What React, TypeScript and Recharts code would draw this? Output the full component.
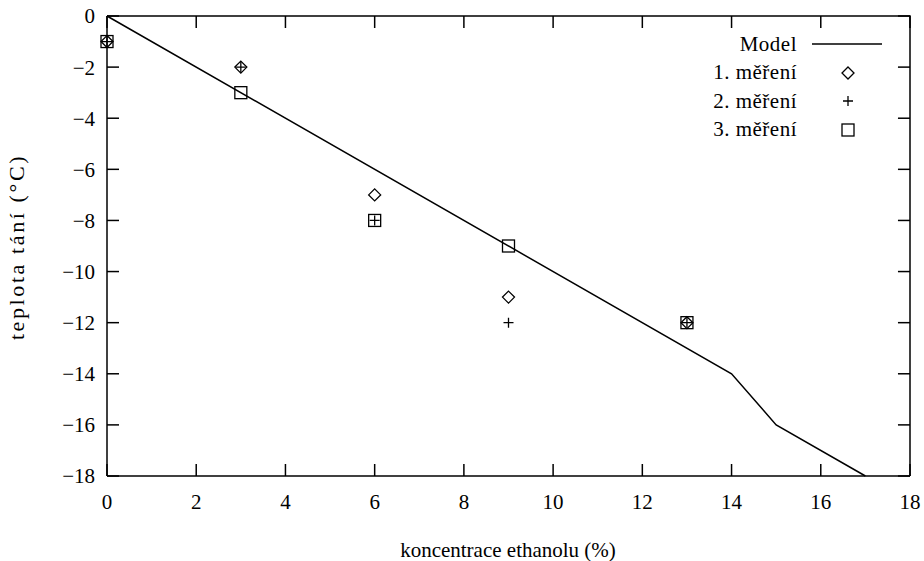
import React from 'react';
import { ScatterChart, Scatter, XAxis, YAxis, Legend } from 'recharts';

// measured concentrations (%) and melting temperatures (°C)
const concentrations = [0, 3, 6, 9, 13];
const mereni1 = [-1, -2, -7, -11, -12];
const mereni2 = [-1, -2, -8, -12, -12];
const mereni3 = [-1, -3, -8, -9, -12];

// model line vertices
const modelX = [0, 14, 15, 17];
const modelY = [0, -14, -16, -18];

const xTicks = [0, 2, 4, 6, 8, 10, 12, 14, 16, 18];
const yTicks = [0, -2, -4, -6, -8, -10, -12, -14, -16, -18];
const X_MIN = 0, X_MAX = 18, Y_MIN = -18, Y_MAX = 0;

const toPoints = (xs: number[], ys: number[]) => xs.map((x, i) => ({ x, y: ys[i] }));

const modelData = toPoints(modelX, modelY);
const data1 = toPoints(concentrations, mereni1);
const data2 = toPoints(concentrations, mereni2);
const data3 = toPoints(concentrations, mereni3);

// frame (top + right edge) and inward mirrored ticks, built from the axis ranges
const TICK_Y = 0.47; // ~12px
const TICK_X = 0.27; // ~12px
const frameData = [{ x: X_MIN, y: Y_MAX }, { x: X_MAX, y: Y_MAX }, { x: X_MAX, y: Y_MIN }];
const topTicks = xTicks.map((t) => [{ x: t, y: Y_MAX }, { x: t, y: Y_MAX - TICK_Y }]);
const rightTicks = yTicks.map((t) => [{ x: X_MAX, y: t }, { x: X_MAX - TICK_X, y: t }]);

const FONT = 'Liberation Serif, serif';
const fmt = (v: number) => String(v).replace('-', '\u2212');

const Diamond = ({ cx, cy }: any) => (
  <path d={`M${cx},${cy - 6}L${cx + 6},${cy}L${cx},${cy + 6}L${cx - 6},${cy}Z`} fill="none" stroke="#000" strokeWidth={1.3} />
);
const Plus = ({ cx, cy }: any) => (
  <path d={`M${cx - 5},${cy}H${cx + 5}M${cx},${cy - 5}V${cy + 5}`} fill="none" stroke="#000" strokeWidth={1.3} />
);
const Square = ({ cx, cy }: any) => (
  <rect x={cx - 6} y={cy - 6} width={12} height={12} fill="none" stroke="#000" strokeWidth={1.3} />
);
const Nothing = () => <g />;

const legendRows = [
  { label: 'Model', kind: 'line' },
  { label: '1. měření', kind: 'diamond' },
  { label: '2. měření', kind: 'plus' },
  { label: '3. měření', kind: 'square' },
];

const renderLegend = () => (
  <div style={{ fontFamily: FONT, fontSize: 21, color: '#000' }}>
    {legendRows.map((r) => (
      <div key={r.label} style={{ display: 'flex', alignItems: 'center', height: 28.5 }}>
        <span style={{ width: 97, textAlign: 'right', whiteSpace: 'nowrap', letterSpacing: 0.5 }}>{r.label}</span>
        <svg width={80} height={20} style={{ marginLeft: 15 }}>
          {r.kind === 'line' && <line x1={0} x2={70} y1={10} y2={10} stroke="#000" strokeWidth={1.5} />}
          {r.kind === 'diamond' && <Diamond cx={36} cy={10} />}
          {r.kind === 'plus' && <Plus cx={36} cy={10} />}
          {r.kind === 'square' && <Square cx={36} cy={10} />}
        </svg>
      </div>
    ))}
  </div>
);

const tickStyle = { fill: '#000', fontSize: 21, fontFamily: FONT };
const axisLine = { stroke: '#000', strokeWidth: 1.5 };

export default function App() {
  return (
    <div style={{ position: 'absolute', left: 0, top: 0, width: 924, height: 561, background: '#fff', fontFamily: FONT }}>
      <ScatterChart width={924} height={561} margin={{ top: 16, right: 14, left: 0, bottom: 0 }}>
        <XAxis
          type="number"
          dataKey="x"
          domain={[X_MIN, X_MAX]}
          ticks={xTicks}
          height={85}
          tickSize={-12}
          tickMargin={30}
          tick={tickStyle}
          axisLine={axisLine}
          tickLine={axisLine}
          label={{
            content: () => (
              <text x={508} y={557} textAnchor="middle" fontSize={21} fontFamily={FONT} fill="#000">koncentrace ethanolu (%)</text>
            ),
          }}
        />
        <YAxis
          type="number"
          dataKey="y"
          domain={[Y_MIN, Y_MAX]}
          ticks={yTicks}
          width={107}
          tickSize={-12}
          tickMargin={24}
          tick={tickStyle}
          tickFormatter={fmt}
          axisLine={axisLine}
          tickLine={axisLine}
          label={{
            content: () => (
              <text x={24} y={247} transform="rotate(-90, 24, 247)" textAnchor="middle" fontSize={22} letterSpacing={2.6} fontFamily={FONT} fill="#000">teplota tání (°C)</text>
            ),
          }}
        />
        <Legend content={renderLegend} layout="horizontal" verticalAlign="middle" align="center"
          wrapperStyle={{ left: 700, top: 30, width: 200 }} />
        <Scatter name="frame" data={frameData} line={{ stroke: '#000', strokeWidth: 1.5 }} shape={Nothing} isAnimationActive={false} />
        {topTicks.map((seg, i) => (
          <Scatter key={`tt-${i}`} name={`tt-${i}`} data={seg} line={{ stroke: '#000', strokeWidth: 1.5 }} shape={Nothing} isAnimationActive={false} />
        ))}
        {rightTicks.map((seg, i) => (
          <Scatter key={`rt-${i}`} name={`rt-${i}`} data={seg} line={{ stroke: '#000', strokeWidth: 1.5 }} shape={Nothing} isAnimationActive={false} />
        ))}
        <Scatter name="Model" data={modelData} line={{ stroke: '#000', strokeWidth: 1.5 }} shape={Nothing} isAnimationActive={false} />
        <Scatter name="1. měření" data={data1} shape={Diamond} isAnimationActive={false} />
        <Scatter name="2. měření" data={data2} shape={Plus} isAnimationActive={false} />
        <Scatter name="3. měření" data={data3} shape={Square} isAnimationActive={false} />
      </ScatterChart>
    </div>
  );
}
